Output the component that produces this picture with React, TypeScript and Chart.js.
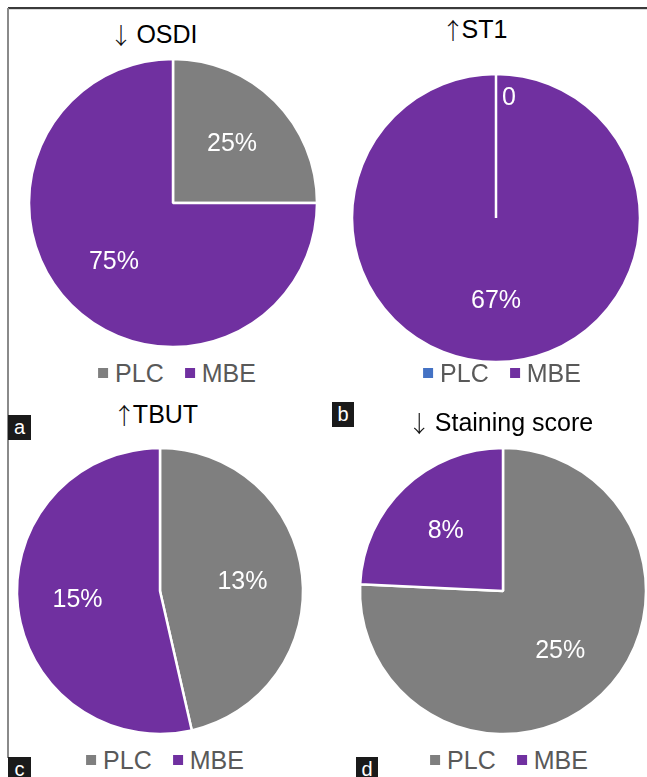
import React, { useEffect, useRef } from "react";
import { Chart, PieController, ArcElement } from "chart.js";

Chart.register(PieController, ArcElement);

// Series data
const categories = ["PLC", "MBE"];
const osdiValues = [25, 75];
const st1Values = [0, 67];
const tbutValues = [13, 15];
const stainingValues = [25, 8];
const titles = ["↓ OSDI", "↑ST1", "↑TBUT", "↓ Staining score"];
const panelTags = ["a", "b", "c", "d"];

const GRAY = "#7f7f7f";
const PURPLE = "#7030a0";
const BLUE = "#4472c4";

const FONT = '"Liberation Sans", Arial, Helvetica, sans-serif';
const ARROW_FONT = '"Noto Sans CJK JP", "DejaVu Sans", sans-serif';
const FS = 25;

type Panel = {
  values: number[];
  colors: string[];
  title: string;
  tag: string;
  cx: number;
  cy: number;
  r: number;
  titleX: number;
  titleBase: number;
  legendX: number;
  legendY: number;
  tagBox: [number, number, number, number];
};

const panels: Panel[] = [
  {
    values: osdiValues, colors: [GRAY, PURPLE], title: titles[0], tag: panelTags[0],
    cx: 173, cy: 203, r: 143, titleX: 155, titleBase: 42, legendX: 177, legendY: 373,
    tagBox: [8, 415, 23, 25],
  },
  {
    values: st1Values, colors: [BLUE, PURPLE], title: titles[1], tag: panelTags[1],
    cx: 496, cy: 218, r: 143, titleX: 476, titleBase: 37, legendX: 502, legendY: 373,
    tagBox: [332, 402, 22, 25],
  },
  {
    values: tbutValues, colors: [GRAY, PURPLE], title: titles[2], tag: panelTags[2],
    cx: 160, cy: 591, r: 142, titleX: 157, titleBase: 422, legendX: 165, legendY: 760,
    tagBox: [8, 757, 23, 25],
  },
  {
    values: stainingValues, colors: [GRAY, PURPLE], title: titles[3], tag: panelTags[3],
    cx: 503, cy: 591, r: 142, titleX: 502, titleBase: 430, legendX: 509, legendY: 760,
    tagBox: [356, 757, 22, 25],
  },
];

const formatValue = (v: number) => (v === 0 ? "0" : `${v}%`);

// Writes each slice's value inside the slice, white text
const sliceLabels = {
  id: "sliceLabels",
  afterDatasetsDraw(chart: any) {
    const { ctx } = chart;
    const meta = chart.getDatasetMeta(0);
    const values = chart.data.datasets[0].data as number[];
    ctx.save();
    ctx.fillStyle = "#ffffff";
    ctx.font = `${FS}px ${FONT}`;
    ctx.textBaseline = "middle";
    meta.data.forEach((el: any, i: number) => {
      const v = values[i];
      const { x, y, startAngle, endAngle, outerRadius } = el.getProps(
        ["x", "y", "startAngle", "endAngle", "outerRadius"],
        true
      );
      const mid = (startAngle + endAngle) / 2;
      if (v === 0) {
        const rr = outerRadius * 0.83;
        ctx.textAlign = "left";
        ctx.fillText(formatValue(v), x + Math.cos(mid) * rr + 6, y + Math.sin(mid) * rr);
      } else {
        const rr = outerRadius * 0.58;
        ctx.textAlign = "center";
        ctx.fillText(formatValue(v), x + Math.cos(mid) * rr, y + Math.sin(mid) * rr);
      }
    });
    ctx.restore();
  },
};

function PieCanvas({ panel }: { panel: Panel }) {
  const ref = useRef<HTMLCanvasElement | null>(null);
  const size = Math.round(2 * (panel.r + 6));
  useEffect(() => {
    if (!ref.current) return;
    const chart = new Chart(ref.current, {
      type: "pie",
      data: {
        labels: categories,
        datasets: [
          {
            data: panel.values,
            backgroundColor: panel.colors,
            borderColor: "#ffffff",
            borderWidth: 2.5,
          },
        ],
      },
      options: {
        animation: false,
        responsive: false,
        maintainAspectRatio: false,
        devicePixelRatio: 1,
        radius: panel.r + 1,
        layout: { padding: 0 },
        events: [],
        plugins: { legend: { display: false }, tooltip: { enabled: false } } as any,
      },
      plugins: [sliceLabels],
    });
    return () => chart.destroy();
  }, [panel]);
  return (
    <canvas
      ref={ref}
      width={size}
      height={size}
      style={{
        position: "absolute",
        left: panel.cx - size / 2,
        top: panel.cy - size / 2,
        width: size,
        height: size,
      }}
    />
  );
}

function Legend({ panel }: { panel: Panel }) {
  return (
    <div
      style={{
        position: "absolute",
        left: panel.legendX,
        top: panel.legendY - FS / 2,
        transform: "translateX(-50%)",
        display: "flex",
        alignItems: "center",
        height: FS,
        whiteSpace: "nowrap",
        fontFamily: FONT,
        fontSize: FS,
        lineHeight: `${FS}px`,
        color: "#595959",
      }}
    >
      {categories.map((c, i) => (
        <div key={c} style={{ display: "flex", alignItems: "center", marginLeft: i === 0 ? 0 : 21 }}>
          <span style={{ display: "inline-block", width: 10, height: 10, background: panel.colors[i], marginRight: 7 }} />
          <span>{c}</span>
        </div>
      ))}
    </div>
  );
}

function Title({ panel }: { panel: Panel }) {
  const arrow = panel.title.slice(0, 1);
  const rest = panel.title.slice(1);
  return (
    <div
      style={{
        position: "absolute",
        left: panel.titleX,
        top: panel.titleBase - 21.2,
        transform: "translateX(-50%)",
        whiteSpace: "pre",
        fontFamily: FONT,
        fontSize: FS,
        lineHeight: `${FS}px`,
        color: "#000000",
      }}
    >
      <span
        style={{
          fontFamily: ARROW_FONT,
          fontSize: 23,
          fontWeight: 300,
          color: "#111111",
          display: "inline-block",
          width: 17,
          overflow: "visible",
          verticalAlign: "baseline",
          letterSpacing: 0,
        }}
      >
        <span style={{ display: "inline-block", transform: "translate(-3px, 1px)" }}>{arrow}</span>
      </span>
      {rest}
    </div>
  );
}

export default function App() {
  return (
    <div
      style={{
        position: "absolute",
        left: 0,
        top: 0,
        width: 647,
        height: 777,
        background: "#ffffff",
        overflow: "hidden",
      }}
    >
      {/* frame lines */}
      <div style={{ position: "absolute", left: 8, top: 7, width: 639, height: 2, background: "#3a3a3a" }} />
      <div style={{ position: "absolute", left: 8, top: 9, width: 639, height: 1, background: "#d9d9d9" }} />
      <div style={{ position: "absolute", left: 7, top: 8, width: 2, height: 750, background: "#8a8a8a" }} />

      {panels.map((p) => (
        <React.Fragment key={p.tag}>
          <PieCanvas panel={p} />
          <Title panel={p} />
          <Legend panel={p} />
          <div
            style={{
              position: "absolute",
              left: p.tagBox[0],
              top: p.tagBox[1],
              width: p.tagBox[2],
              height: p.tagBox[3],
              background: "#1a1a1a",
              color: "#ffffff",
              fontFamily: FONT,
              fontSize: 20,
              lineHeight: `${p.tagBox[3]}px`,
              textAlign: "center",
            }}
          >
            {p.tag}
          </div>
        </React.Fragment>
      ))}
    </div>
  );
}
